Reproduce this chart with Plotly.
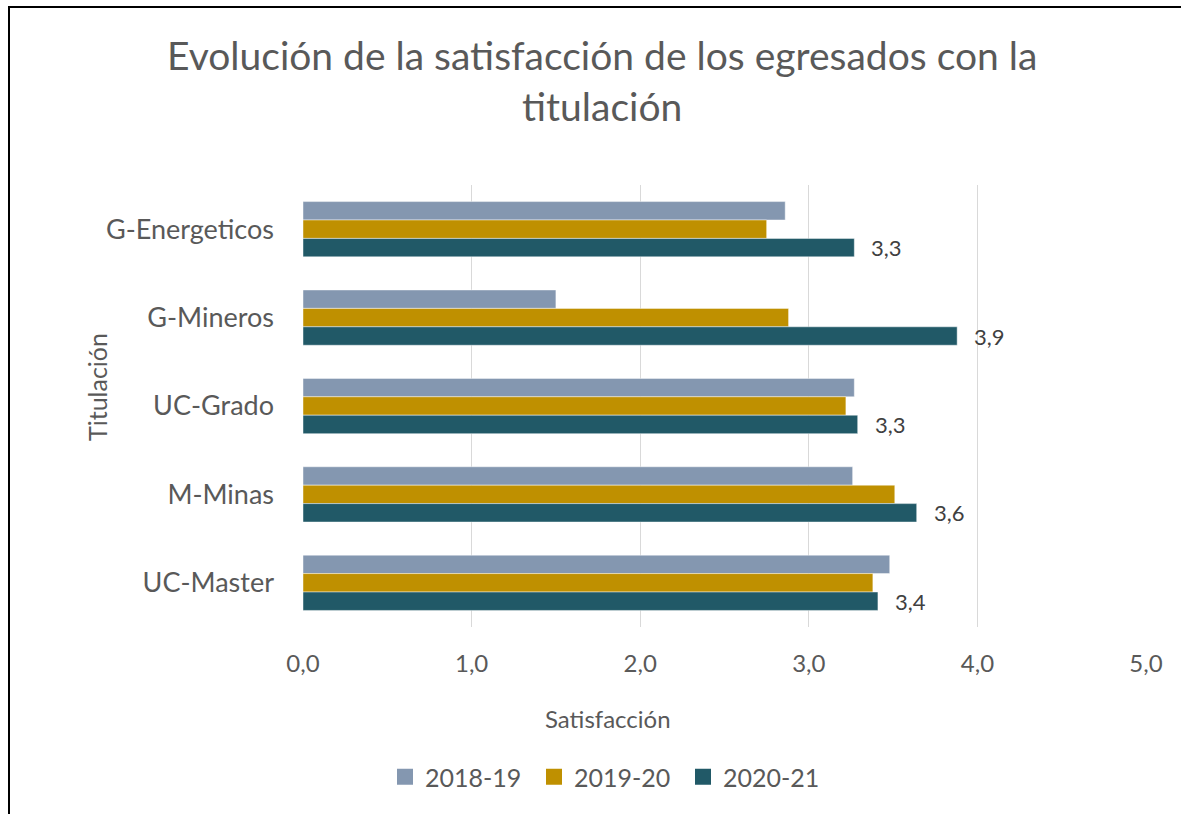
import plotly.graph_objects as go

categories = ["G-Energeticos", "G-Mineros", "UC-Grado", "M-Minas", "UC-Master"]
series_names = ["2018-19", "2019-20", "2020-21"]
v_2018_19 = [2.86, 1.50, 3.27, 3.26, 3.48]
v_2019_20 = [2.75, 2.88, 3.22, 3.51, 3.38]
v_2020_21 = [3.27, 3.88, 3.29, 3.64, 3.41]
x_ticks = [0, 1, 2, 3, 4, 5]

colors = ["#8497B0", "#BF9000", "#215967"]
W, H = 1181, 814
L, R, T, B = 303, 35, 185, 187
PW, PH = W - L - R, H - T - B
FONT = "Lato, Carlito, sans-serif"
GRAY = "#595959"


def px(x):
    return (x - L) / PW


def py(y):
    return (H - B - y) / PH


fig = go.Figure()
for name, vals, col in zip(series_names, [v_2018_19, v_2019_20, v_2020_21], colors):
    fig.add_trace(go.Bar(
        y=categories, x=vals, name=name, orientation="h", showlegend=False,
        legendgroup=name,
        marker=dict(color=col, line=dict(color="rgba(255,255,255,0.6)", width=0.75)),
    ))
# legend entries with larger square swatches
for name, col in zip(series_names, colors):
    fig.add_trace(go.Scatter(
        x=[None], y=[None], mode="markers", name=name, legendgroup=name,
        marker=dict(symbol="square", size=16, color=col), showlegend=True,
    ))

BARGAP = 0.375
cat_px = PH / len(categories)
bar_th = cat_px * (1 - BARGAP) / 3

annotations = []
for c, v in zip(categories, v_2020_21):
    annotations.append(dict(
        x=v, y=c, xref="x", yref="y", text=f"{v:.1f}".replace(".", ","),
        showarrow=False, xanchor="left", yanchor="middle",
        xshift=15, yshift=-bar_th,
        font=dict(family=FONT, size=22, color="#404040"),
    ))

annotations.append(dict(
    x=px(602), y=py(81), xref="paper", yref="paper",
    text="Evolución de la satisfacción de los egresados con la<br>titulación",
    showarrow=False, xanchor="center", yanchor="middle",
    font=dict(family=FONT, size=39, color=GRAY),
))
annotations.append(dict(
    x=px(97), y=py(387), xref="paper", yref="paper", text="Titulación",
    showarrow=False, textangle=-90, xanchor="center", yanchor="middle",
    font=dict(family=FONT, size=25, color=GRAY),
))
annotations.append(dict(
    x=px(608), y=py(718), xref="paper", yref="paper", text="Satisfacción",
    showarrow=False, xanchor="center", yanchor="middle",
    font=dict(family=FONT, size=24, color=GRAY),
))

shapes = [
    dict(type="line", xref="paper", yref="paper", x0=px(9), x1=px(9), y0=py(6), y1=py(830),
         line=dict(color="black", width=2)),
    dict(type="line", xref="paper", yref="paper", x0=px(8), x1=px(1200), y0=py(7), y1=py(7),
         line=dict(color="black", width=2)),
]

fig.update_layout(
    width=W, height=H,
    margin=dict(l=L, r=R, t=T, b=B, pad=0),
    paper_bgcolor="white", plot_bgcolor="white",
    separators=",.",
    barmode="group", bargap=BARGAP, bargroupgap=0,
    font=dict(family=FONT, color=GRAY),
    showlegend=True,
    legend=dict(orientation="h", x=px(385), xanchor="left", y=py(777), yanchor="middle",
                font=dict(family=FONT, size=25, color=GRAY), traceorder="normal",
                itemwidth=30, entrywidth=104, entrywidthmode="pixels"),
    annotations=annotations,
    shapes=shapes,
    xaxis=dict(range=[0, 5], tickvals=x_ticks, tickformat=".1f", showgrid=True,
               gridcolor="#D9D9D9", gridwidth=1, zeroline=False, showline=False,
               ticks="", ticklabelstandoff=20, tickfont=dict(family=FONT, size=24, color=GRAY)),
    yaxis=dict(type="category", autorange="reversed", showgrid=False, zeroline=False,
               showline=False, ticks="", ticklabelstandoff=28,
               tickfont=dict(family=FONT, size=27, color=GRAY)),
)

fig.write_html("out.html", config={"displayModeBar": False},
               post_script="document.body.style.margin='0';")
